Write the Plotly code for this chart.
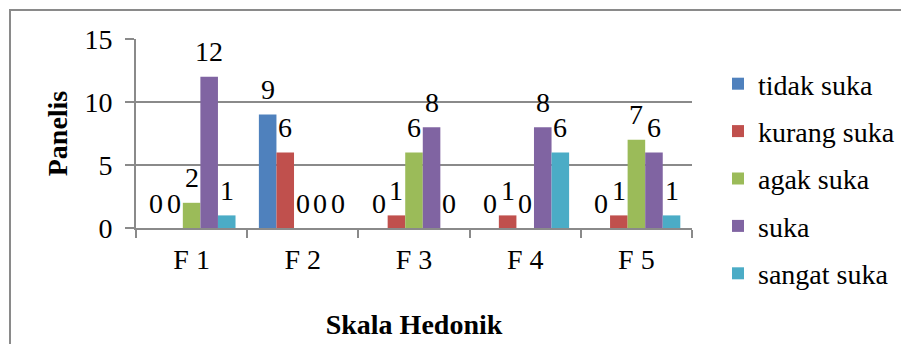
import plotly.graph_objects as go

categories = ["F 1", "F 2", "F 3", "F 4", "F 5"]
series_names = ["tidak suka", "kurang suka", "agak suka", "suka", "sangat suka"]
tidak_suka = [0, 9, 0, 0, 0]
kurang_suka = [0, 6, 1, 1, 1]
agak_suka = [2, 0, 6, 0, 7]
suka = [12, 0, 8, 8, 6]
sangat_suka = [1, 0, 0, 6, 1]
series_values = [tidak_suka, kurang_suka, agak_suka, suka, sangat_suka]
colors = ["#4F81BD", "#C0504D", "#9BBB59", "#8064A2", "#4BACC6"]
y_ticks = [0, 5, 10, 15]

FONT = "Liberation Serif, Times New Roman, serif"
FS = 28
GRID = "#8a8a8a"
BARGAP = 0.21

# page offset of 8px (body margin) -> figure is 901x336
W, H = 901, 336
L, R, T, B = 128, 217, 31, 116
PW, PH = W - L - R, H - T - B

ncat = len(categories)
fig = go.Figure()
for j, (name, vals) in enumerate(zip(series_names, series_values)):
    fig.add_trace(go.Bar(
        x=list(range(ncat)), y=vals, name=name,
        marker=dict(color=colors[j], line=dict(width=0)),
        legendgroup=name,
    ))

n = len(series_names)
w = (1 - BARGAP) / n
annotations = []
for i in range(ncat):
    for j in range(n):
        v = series_values[j][i]
        annotations.append(dict(
            x=i - (1 - BARGAP) / 2 + (j + 0.5) * w, y=v, xref="x", yref="y",
            text=str(v), showarrow=False, yanchor="middle", yshift=25,
            font=dict(family=FONT, size=FS, color="black"),
        ))

fig.update_layout(
    width=W, height=H,
    margin=dict(l=L, r=R, t=T, b=B, autoexpand=False),
    paper_bgcolor="white", plot_bgcolor="white",
    barmode="group", bargap=BARGAP, bargroupgap=0,
    font=dict(family=FONT, size=FS, color="black"),
    showlegend=True,
    legend=dict(
        x=(710 - L) / PW, y=1 - (51 - T) / PH, xanchor="left", yanchor="top",
        font=dict(family=FONT, size=FS, color="black"),
        tracegroupgap=8, traceorder="grouped", maxheight=330,
        bgcolor="rgba(0,0,0,0)",
    ),
    annotations=annotations,
    shapes=[dict(
        type="rect", xref="paper", yref="paper",
        x0=(2 - L) / PW, x1=(930 - L) / PW,
        y0=-(360 - (H - B)) / PH, y1=1 + (T - 2) / PH,
        line=dict(color=GRID, width=2), fillcolor="rgba(0,0,0,0)", layer="below",
    )],
)
fig.update_xaxes(
    range=[-0.5, ncat - 0.5],
    tickmode="array", tickvals=list(range(ncat)), ticktext=categories,
    showgrid=False, showline=True, linecolor=GRID, linewidth=2,
    ticks="outside", ticklen=7, tickcolor="rgba(0,0,0,0)", tickwidth=2,
    minor=dict(tickmode="array", tickvals=[k - 0.5 for k in range(ncat + 1)],
               ticks="outside", ticklen=8, tickcolor=GRID, tickwidth=2, showgrid=False),
    ticklabelstandoff=-2, automargin=False,
    title=dict(text="<b>Skala Hedonik</b>", font=dict(family=FONT, size=FS), standoff=41),
)
fig.update_yaxes(
    range=[0, 15], tickvals=y_ticks,
    showgrid=True, gridcolor=GRID, gridwidth=2,
    showline=True, linecolor=GRID, linewidth=2,
    ticks="outside", ticklen=9, tickcolor=GRID, tickwidth=2,
    ticklabelstandoff=7, zeroline=False, automargin=False,
    title=dict(text="<b>Panelis</b>", font=dict(family=FONT, size=FS), standoff=9),
)

fig.write_html("out.html")
